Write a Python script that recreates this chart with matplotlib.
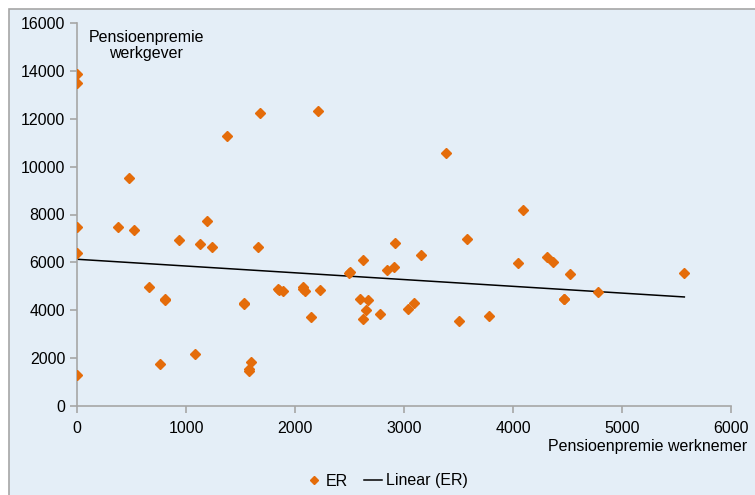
import numpy as np
import matplotlib.pyplot as plt
from matplotlib.patches import Rectangle

plt.rcParams["font.family"] = ["Liberation Sans", "DejaVu Sans"]

# Pensioenpremie werknemer (x) and werkgever (y)
werknemer = [
    0, 0, 0, 0, 0, 480, 1373, 1679, 2211, 3385, 4092,
    376, 526, 939, 1128, 1193, 1239, 1661,
    658, 804, 810, 1529, 1535, 1844, 1853, 1887,
    2076, 2070, 2094, 2226, 2144, 2495, 2505, 2624,
    2917, 3153, 2841, 2908, 2594, 2667, 2651, 2621, 2777,
    3034, 3089, 3508, 3581, 3777, 4043, 4309, 4364, 4520,
    5572, 4777, 4465, 4470, 764, 1083, 1593, 1575, 1581,
]
werkgever = [
    13870, 13490, 7490, 6377, 1281, 9524, 11278, 12240, 12322, 10582, 8175,
    7490, 7339, 6920, 6753, 7741, 6628, 6628,
    4957, 4413, 4450, 4247, 4290, 4873, 4858, 4790,
    4984, 4901, 4790, 4846, 3718, 5570, 5600, 6098,
    6795, 6294, 5667, 5792, 4470, 4413, 4010, 3620, 3857,
    4052, 4316, 3551, 6963, 3759, 5960, 6237, 6015, 5514,
    5556, 4748, 4455, 4490, 1768, 2158, 1852, 1546, 1462,
]

# Linear (ER) trendline as drawn in the chart: start and end values
trend_x = [0, 5572]
trend_y = [6130, 4555]

orange = "#E46C0A"
bg = "#E4EEF7"
grey = "#A6A6A6"

fig = plt.figure(figsize=(7.55, 4.95), dpi=100)
fig.patch.set_facecolor("white")
fig.patches.append(Rectangle((9 / 755, -0.1), 1.2, 1 - 9 / 495 + 0.1,
                             transform=fig.transFigure, facecolor=bg,
                             edgecolor=grey, linewidth=1.2, zorder=-10))

ax = fig.add_axes([77 / 755, 1 - 406 / 495, 654 / 755, 383 / 495])
ax.set_facecolor("none")

ax.plot(werknemer, werkgever, linestyle="none", marker="D", markersize=5.4,
        color=orange, label="ER", zorder=3)
ax.plot(trend_x, trend_y, color="black", linewidth=1.1,
        label="Linear (ER)", zorder=2)

ax.set_xlim(0, 6000)
ax.set_ylim(0, 16000)
ax.set_xticks(range(0, 6001, 1000))
ax.set_yticks(range(0, 16001, 2000))
for s in ["top", "right"]:
    ax.spines[s].set_visible(False)
for s in ["left", "bottom"]:
    ax.spines[s].set_color(grey)
    ax.spines[s].set_linewidth(1.2)
ax.tick_params(colors=grey, labelcolor="black", labelsize=11.5, length=5,
               width=1.2)
ax.tick_params(axis="x", pad=6)

ax.text(0.106, 0.982, "Pensioenpremie\nwerkgever", transform=ax.transAxes,
        ha="center", va="top", fontsize=11.5, linespacing=1.1)
fig.text(747 / 755, 1 - 447 / 495, "Pensioenpremie werknemer",
         ha="right", va="center", fontsize=11.5)

fig.legend(loc="center", bbox_to_anchor=(386 / 755, 1 - 481 / 495), ncol=2,
           frameon=False, fontsize=11.5, handlelength=1.15, handletextpad=0.2,
           columnspacing=1.0, markerscale=0.8)

plt.savefig("out.png", dpi=100)
